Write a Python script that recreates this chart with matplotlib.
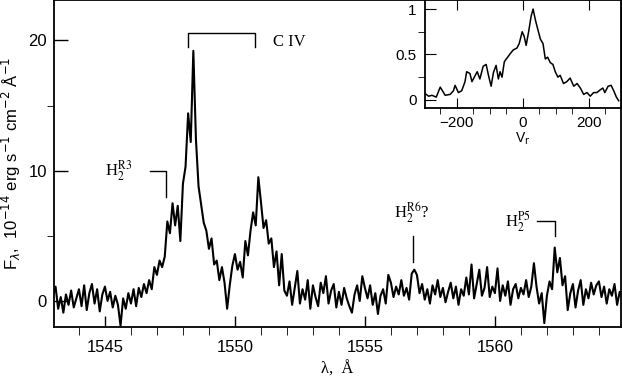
import matplotlib
matplotlib.use('Agg')
import matplotlib.pyplot as plt
import numpy as np

# --- data ---
# main spectrum, sampled every 0.1 A from 1543.0
wave_start = 1543.0
wave_step = 0.1
flux = [
    0.4, 1.1, -0.6, 0.3, -0.9, 0.5, -0.3, 0.8, -0.5, 0.2,        # 1543
    0.9, -0.4, 1.2, -0.7, 0.6, 1.3, -0.2, 0.9, -0.8, 0.5,        # 1544
    1.1, 0.0, 0.7, -0.5, 0.4, -0.3, -1.9, 0.2, -0.6, 0.6,        # 1545
    -0.2, 0.9, -0.4, 1.0, 0.3, 1.3, 0.6, 1.6, 0.9, 2.6,          # 1546
    2.0, 3.1, 2.6, 3.4, 6.1, 5.2, 7.5, 5.8, 7.3, 4.6,            # 1547
    9.0, 10.3, 14.4, 12.2, 19.2, 12.4, 8.8, 7.4, 6.0, 5.4,       # 1548
    4.0, 4.8, 2.8, 3.1, 1.6, 2.6, 1.4, -0.6, 1.2, 2.7,           # 1549
    3.6, 2.4, 3.0, 1.8, 4.6, 3.5, 5.4, 6.8, 5.8, 9.5,            # 1550
    7.6, 5.6, 6.2, 4.4, 4.8, 2.6, 3.8, 1.2, 3.6, 0.8,            # 1551
    0.4, 1.5, -0.3, 1.0, 2.3, -0.2, 0.9, 0.1, 1.6, -0.6,         # 1552
    1.2, 0.3, -0.4, 1.4, 0.6, 1.9, -0.2, 0.8, 1.3, -0.5,         # 1553
    0.7, -0.3, 1.0, 0.2, -0.4, -0.9, 0.5, 1.2, 0.0, 1.9,         # 1554
    1.0, 0.2, 1.2, -0.3, 0.6, -1.0, 0.4, 0.9, -0.2, 2.0,         # 1555
    1.4, 0.3, 1.1, 0.5, 1.6, 0.4, 1.0, 0.1, 2.1, 2.4,            # 1556
    2.0, 0.6, 1.3, 0.1, 0.9, -0.2, 1.2, 0.5, 1.6, 0.3,           # 1557
    1.0, -0.1, 0.7, 1.4, 0.2, 1.1, -0.3, 0.9, 0.4, 1.8,          # 1558
    0.5, 2.8, 0.2, 1.3, 2.4, 0.4, 1.0, 2.6, 0.3, 1.1,            # 1559
    0.6, 2.5, 0.0, 1.2, 0.4, 1.5, -0.3, 0.9, 1.3, 0.2,           # 1560
    1.0, 0.5, 1.6, 0.3, 1.1, 2.9, 1.1, -0.2, 0.6, -1.7,          # 1561
    0.4, 1.5, 0.9, 4.1, 2.2, 3.3, 1.2, 1.9, -0.7, 0.6,           # 1562
    1.3, -0.5, 0.8, 1.6, -0.3, 0.9, 0.2, 1.4, 0.5, 1.2,          # 1563
    1.5, 0.3, 1.1, -0.2, 0.9, 0.4, 1.3, -0.3, 0.7, 0.2,          # 1564
]
wave = wave_start + wave_step * np.arange(len(flux))

# inset: normalised C IV profile vs radial velocity
vel = [-296, -285, -275, -262, -250, -235, -220, -210, -205, -195,
       -185, -175, -170, -160, -154, -144, -138, -130, -120, -111,
       -104, -96, -89, -81, -74, -69, -63, -56, -48, -38,
       -29, -18, -11, -2, 4, 10, 17, 25, 31, 38,
       45, 53, 61, 68, 75, 83, 91, 98, 106, 113,
       123, 133, 143, 154, 164, 174, 184, 194, 204, 214,
       224, 234, 242, 248, 258, 267, 275, 283, 290]
prof = [0.07, 0.04, 0.05, 0.03, 0.14, 0.05, 0.06, 0.10, 0.16, 0.08,
        0.10, 0.20, 0.31, 0.29, 0.20, 0.27, 0.31, 0.23, 0.37, 0.39,
        0.27, 0.15, 0.30, 0.38, 0.23, 0.31, 0.25, 0.42, 0.46, 0.51,
        0.55, 0.57, 0.62, 0.75, 0.70, 0.60, 0.74, 0.92, 1.00, 0.88,
        0.78, 0.67, 0.62, 0.45, 0.47, 0.41, 0.39, 0.31, 0.25, 0.27,
        0.18, 0.20, 0.24, 0.15, 0.18, 0.13, 0.06, 0.08, 0.04, 0.08,
        0.08, 0.11, 0.13, 0.08, 0.15, 0.16, 0.10, 0.03, -0.01]

# line identifications (A)
civ_lines = [1548.19, 1550.77]
h2_r3 = 1547.34
h2_r6 = 1556.85
h2_p5 = 1562.30

serif = 'Liberation Serif'
sans = 'Liberation Sans'

# --- plot ---
fig = plt.figure(figsize=(6.22, 3.77), dpi=100)
ax = fig.add_axes([0.0868, 0.1326, 0.9116, 0.8674])
ax.plot(wave, flux, color='black', lw=1.5)
ax.set_xlim(1543.04, 1564.85)
ax.set_ylim(-2.0, 23.1)
ax.set_xticks([1545, 1550, 1555, 1560])
ax.set_xticks(np.arange(1544, 1565, 1), minor=True)
ax.set_yticks([0, 10, 20])
ax.set_yticks([5, 15], minor=True)
ax.tick_params(direction='in', top=False, right=False, labelsize=12, width=1.0)
ax.tick_params(axis='x', which='major', length=8, pad=9)
ax.tick_params(axis='x', which='minor', length=6)
ax.tick_params(axis='y', which='major', length=10, pad=5)
ax.tick_params(axis='y', which='minor', length=5)
for lab in ax.get_xticklabels() + ax.get_yticklabels():
    lab.set_family(sans)
for s in ax.spines.values():
    s.set_linewidth(1.3)

ax.set_xlabel('λ,  Å', family=serif, fontsize=12, labelpad=5)
ax.set_ylabel(r'F$_\lambda$,  10$^{-14}$ erg s$^{-1}$ cm$^{-2}$ Å$^{-1}$',
              family=sans, fontsize=12, labelpad=4)

# C IV bracket
ax.plot([civ_lines[0], civ_lines[0], civ_lines[1], civ_lines[1]],
        [19.5, 20.6, 20.6, 19.5], color='black', lw=1.0)
ax.text(1551.45, 19.9, 'C IV', family=serif, fontsize=12, va='center')

# H2 marks
ax.plot([h2_r3 - 0.62, h2_r3, h2_r3], [10.0, 10.0, 8.0], color='black', lw=1.0)
ax.text(1545.0, 10.0, r'H$_2^{\rm R3}$', family=serif, math_fontfamily='stix',
        fontsize=12, va='center')
ax.plot([h2_r6, h2_r6], [3.0, 5.0], color='black', lw=1.0)
ax.text(h2_r6 - 0.75, 6.8, r'H$_2^{\rm R6}$?', family=serif, math_fontfamily='stix',
        fontsize=12, va='center')
ax.plot([h2_p5 - 0.7, h2_p5, h2_p5], [6.15, 6.15, 5.0], color='black', lw=1.0)
ax.text(1560.4, 6.1, r'H$_2^{\rm P5}$', family=serif, math_fontfamily='stix',
        fontsize=12, va='center')

# --- inset ---
ins = fig.add_axes([0.6833, 0.7135, 0.3151, 0.2865])
ins.plot(vel, prof, color='black', lw=1.1)
ins.set_xlim(-296, 297)
ins.set_ylim(-0.09, 1.1)
ins.set_xticks([-200, 0, 200])
ins.set_xticks(np.arange(-250, 300, 50), minor=True)
ins.set_yticks([0, 0.5, 1])
ins.set_yticklabels(['0', '0.5', '1'])
ins.set_yticks([0.25, 0.75], minor=True)
ins.tick_params(direction='in', top=True, right=False, labelsize=11)
ins.tick_params(axis='x', which='major', length=7, pad=6)
ins.tick_params(axis='x', which='minor', length=4)
ins.tick_params(axis='y', which='major', length=8, pad=6)
ins.tick_params(axis='y', which='minor', length=5)
for lab in ins.get_xticklabels() + ins.get_yticklabels():
    lab.set_family(sans)
for s in ins.spines.values():
    s.set_linewidth(1.3)
ins.set_xlabel(r'V$_{\rm r}$', family=sans, fontsize=10, labelpad=0)

plt.savefig('out.png', dpi=100)
plt.close()
